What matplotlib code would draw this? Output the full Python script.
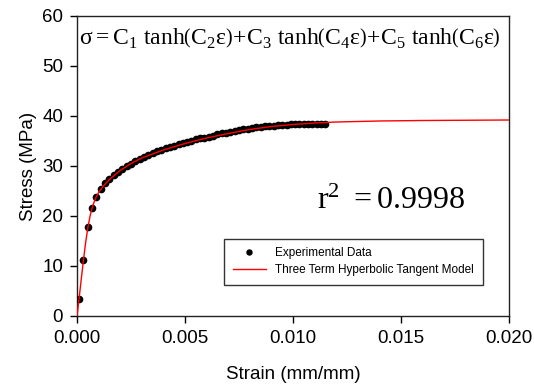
#!/usr/bin/env python3

"""Stress-strain curve with three term hyperbolic tangent fit."""

import matplotlib
matplotlib.use("Agg")
import matplotlib.pyplot as plt

exp_strain = [0.0001, 0.0003, 0.0005, 0.0007, 0.0009, 0.0011, 0.0013, 0.0015,
              0.0017, 0.0019, 0.0021, 0.0023, 0.0025, 0.0027, 0.0029, 0.0031,
              0.0033, 0.0035, 0.0037, 0.0039, 0.0041, 0.0043, 0.0045, 0.0047,
              0.0049, 0.0051, 0.0053, 0.0055, 0.0057, 0.0059, 0.0061, 0.0063,
              0.0065, 0.0067, 0.0069, 0.0071, 0.0073, 0.0075, 0.0077, 0.0079,
              0.0081, 0.0083, 0.0085, 0.0087, 0.0089, 0.0091, 0.0093, 0.0095,
              0.0097, 0.0099, 0.0101, 0.0103, 0.0105, 0.0107, 0.0109, 0.0111,
              0.0113, 0.0115]
exp_stress = [3.4, 11.2, 17.8, 21.7, 23.9, 25.3, 26.5, 27.4,
              28.1, 28.8, 29.4, 29.9, 30.4, 30.9, 31.4, 31.8,
              32.2, 32.5, 32.9, 33.2, 33.5, 33.8, 34.0, 34.3,
              34.5, 34.8, 35.0, 35.3, 35.5, 35.6, 35.8, 36.0,
              36.3, 36.5, 36.6, 36.8, 36.9, 37.1, 37.3, 37.4,
              37.5, 37.7, 37.8, 37.9, 37.9, 38.0, 38.1, 38.2,
              38.2, 38.3, 38.3, 38.4, 38.4, 38.4, 38.4, 38.4,
              38.4, 38.4]

# Model curve
model_strain = [0.0, 0.0001, 0.0002, 0.0003, 0.0004, 0.0005, 0.0006, 0.0007,
                0.0008, 0.0009, 0.0010, 0.0012, 0.0015, 0.0020, 0.0025, 0.0030,
                0.0040, 0.0050, 0.0060, 0.0070, 0.0080, 0.0090, 0.0100, 0.0110,
                0.0120, 0.0140, 0.0160, 0.0180, 0.0200]
model_stress = [0.0, 3.6, 7.5, 11.2, 14.7, 17.6, 19.9, 21.6,
                22.9, 23.9, 24.7, 25.9, 27.3, 29.1, 30.5, 31.6,
                33.2, 34.5, 35.6, 36.5, 37.3, 37.9, 38.3, 38.6,
                38.8, 39.0, 39.1, 39.15, 39.2]

plt.rcParams['font.family'] = ['Liberation Sans', 'DejaVu Sans']
plt.rcParams['mathtext.fontset'] = 'custom'
plt.rcParams['mathtext.rm'] = 'Liberation Serif'
plt.rcParams['mathtext.it'] = 'Liberation Serif'
plt.rcParams['mathtext.bf'] = 'Liberation Serif:bold'

fig = plt.figure(figsize=(5.34, 3.87), dpi=100)
ax = fig.add_axes([77 / 534, 1 - 316 / 387, 432 / 534, 300 / 387])

ax.plot(exp_strain, exp_stress, 'o', color='k', markersize=4.5,
        label='Experimental Data', zorder=3)
ax.plot(model_strain, model_stress, '-', color='#ff0000', linewidth=1.0,
        label='Three Term Hyperbolic Tangent Model', zorder=4)

ax.set_xlim(0, 0.020)
ax.set_ylim(0, 60)
ax.set_xticks([0.0, 0.005, 0.010, 0.015, 0.020])
ax.set_xticklabels(['0.000', '0.005', '0.010', '0.015', '0.020'])
ax.set_yticks([0, 10, 20, 30, 40, 50, 60])
ax.tick_params(direction='out', length=5, width=1, labelsize=13.5, pad=5,
               top=False, right=False)
for sp in ax.spines.values():
  sp.set_linewidth(1.0)
  sp.set_color('#222222')

ax.set_xlabel('Strain (mm/mm)', fontsize=13.5, labelpad=14)
ax.set_ylabel('Stress (MPa)', fontsize=13.5, labelpad=4)

ax.text(0.493, 0.925,
        r'$\mathrm{\sigma = C_1\ tanh\left(C_2\varepsilon\right)\!+\!C_3\ tanh\left(C_4\varepsilon\right)\!+\!C_5\ tanh\left(C_6\varepsilon\right)}$',
        transform=ax.transAxes, ha='center', va='center', fontsize=17)
ax.text(317, 387 - 209, r'$\mathrm{r^{2}\ =0.9998}$',
        transform=None, ha='left', va='baseline', fontsize=23)

leg = ax.legend(loc='lower left', bbox_to_anchor=(147 / 432, 31 / 300),
                borderaxespad=0, fontsize=8.5, frameon=True, fancybox=False,
                edgecolor='k', numpoints=1, markerscale=0.8, handlelength=2.8,
                borderpad=0.75, labelspacing=0.4)
leg.get_frame().set_linewidth(1.0)

fig.savefig('out.png', dpi=100)
